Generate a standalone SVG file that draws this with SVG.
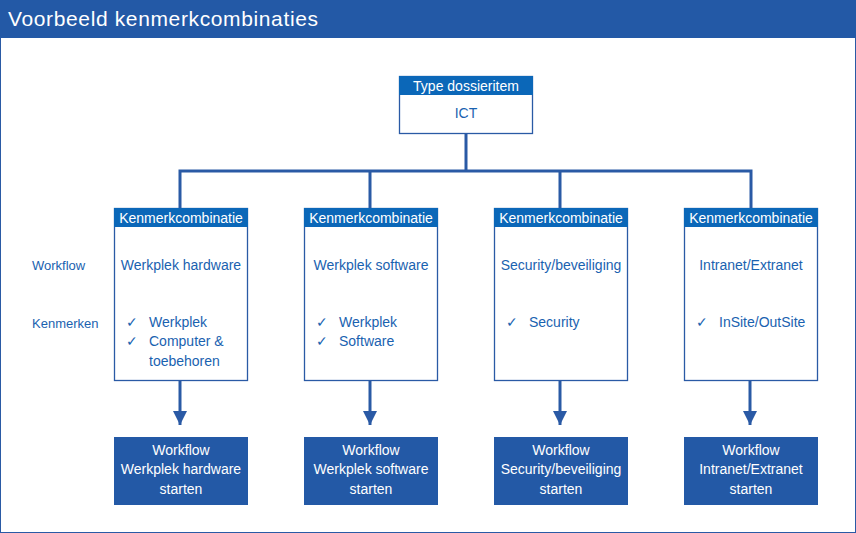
<svg xmlns="http://www.w3.org/2000/svg" width="856" height="533" viewBox="0 0 856 533">
<style>
text{font-family:"Liberation Sans",Arial,sans-serif;font-size:14px;fill:#1a62b0}
.w{fill:#fff}
.hd{fill:#0b67b8}
.box{fill:#fff;stroke:#2a5aa5;stroke-width:1.3}
.bot{fill:#2359a6}
.c{text-anchor:middle}
.ln{fill:none;stroke:#2a5aa5;stroke-width:3}
</style>
<defs><marker id="ar" markerWidth="8" markerHeight="8" refX="4" refY="4" orient="auto" markerUnits="userSpaceOnUse" viewBox="0 0 8 8"><path d="M0,0L8,4L0,8z" fill="#2a5aa5"/></marker>
<marker id="a" viewBox="0 0 10 10" refX="10" refY="5" markerWidth="14" markerHeight="14" markerUnits="userSpaceOnUse" orient="auto"><path d="M0,0L10,5L0,10z" fill="#2a5aa5"/></marker></defs>
<rect x="0.5" y="0.5" width="855" height="532" fill="#fff" stroke="#2a5aa5"/>
<rect x="0" y="0" width="856" height="38" fill="#2359a6"/>
<text x="8" y="26" class="w" style="font-size:21px" textLength="310">Voorbeeld kenmerkcombinaties</text>
<g id="connectors">
<path class="ln" d="M466,133V171M180,208V171H751V208M370,171V208M560,171V208"/>
<path class="ln" d="M180,380V425" marker-end="url(#a)"/>
<path class="ln" d="M370,380V425" marker-end="url(#a)"/>
<path class="ln" d="M560,380V425" marker-end="url(#a)"/>
<path class="ln" d="M750,380V425" marker-end="url(#a)"/>
</g>
<g id="top"><rect class="box" x="399.5" y="76.5" width="133" height="57"/><rect class="hd" x="399" y="76" width="134" height="19"/><text class="w c" x="466" y="91">Type dossieritem</text><text class="c" x="466" y="118">ICT</text></g>
<g id="labels"><text x="32" y="270" style="font-size:13px">Workflow</text><text x="32" y="328" style="font-size:13px">Kenmerken</text></g>
<g id="k1"><rect class="box" x="114.5" y="208.5" width="133" height="172"/><rect class="hd" x="114" y="208" width="134" height="19"/><text class="w c" x="181" y="223">Kenmerkcombinatie</text><text class="c" x="181" y="270">Werkplek hardware</text><text x="126" y="327">✓</text><text x="149" y="327">Werkplek</text><text x="126" y="346">✓</text><text x="149" y="346">Computer &amp;</text><text x="149" y="366">toebehoren</text></g>
<g id="k2"><rect class="box" x="304.5" y="208.5" width="133" height="172"/><rect class="hd" x="304" y="208" width="134" height="19"/><text class="w c" x="371" y="223">Kenmerkcombinatie</text><text class="c" x="371" y="270">Werkplek software</text><text x="316" y="327">✓</text><text x="339" y="327">Werkplek</text><text x="316" y="346">✓</text><text x="339" y="346">Software</text></g>
<g id="k3"><rect class="box" x="494.5" y="208.5" width="133" height="172"/><rect class="hd" x="494" y="208" width="134" height="19"/><text class="w c" x="561" y="223">Kenmerkcombinatie</text><text class="c" x="561" y="270">Security/beveiliging</text><text x="506" y="327">✓</text><text x="529" y="327">Security</text></g>
<g id="k4"><rect class="box" x="684.5" y="208.5" width="133" height="172"/><rect class="hd" x="684" y="208" width="134" height="19"/><text class="w c" x="751" y="223">Kenmerkcombinatie</text><text class="c" x="751" y="270">Intranet/Extranet</text><text x="696" y="327">✓</text><text x="719" y="327">InSite/OutSite</text></g>
<g id="b1"><rect class="bot" x="114" y="437" width="134" height="68"/><text class="w c" x="181" y="455">Workflow</text><text class="w c" x="181" y="474">Werkplek hardware</text><text class="w c" x="181" y="494">starten</text></g>
<g id="b2"><rect class="bot" x="304" y="437" width="134" height="68"/><text class="w c" x="371" y="455">Workflow</text><text class="w c" x="371" y="474">Werkplek software</text><text class="w c" x="371" y="494">starten</text></g>
<g id="b3"><rect class="bot" x="494" y="437" width="134" height="68"/><text class="w c" x="561" y="455">Workflow</text><text class="w c" x="561" y="474">Security/beveiliging</text><text class="w c" x="561" y="494">starten</text></g>
<g id="b4"><rect class="bot" x="684" y="437" width="134" height="68"/><text class="w c" x="751" y="455">Workflow</text><text class="w c" x="751" y="474">Intranet/Extranet</text><text class="w c" x="751" y="494">starten</text></g>
</svg>
